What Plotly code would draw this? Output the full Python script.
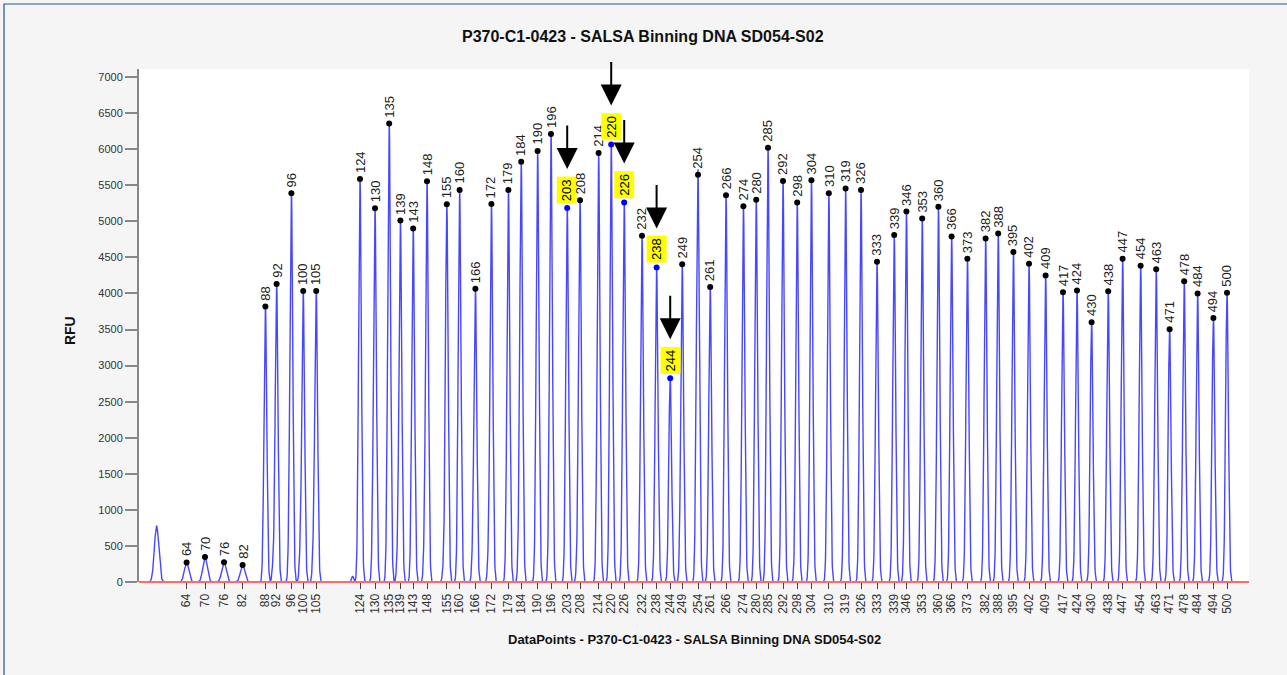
import numpy as np
import plotly.graph_objects as go

# ---------------- data ----------------
bp_labels = [64, 70, 76, 82, 88, 92, 96, 100, 105, 124, 130, 135, 139, 143, 148, 155, 160, 166,
             172, 179, 184, 190, 196, 203, 208, 214, 220, 226, 232, 238, 244, 249, 254, 261, 266,
             274, 280, 285, 292, 298, 304, 310, 319, 326, 333, 339, 346, 353, 360, 366, 373, 382,
             388, 395, 402, 409, 417, 424, 430, 438, 447, 454, 463, 471, 478, 484, 494, 500]
peak_dp = [1638, 1730, 1825, 1918, 2032, 2088, 2162, 2221, 2286, 2505, 2580, 2651, 2707, 2771,
           2840, 2939, 3003, 3082, 3162, 3247, 3311, 3393, 3460, 3541, 3605, 3698, 3761, 3826,
           3915, 3988, 4056, 4116, 4195, 4256, 4335, 4422, 4486, 4545, 4620, 4691, 4762, 4849,
           4933, 5010, 5090, 5176, 5237, 5316, 5397, 5463, 5542, 5633, 5696, 5772, 5850, 5933,
           6020, 6090, 6163, 6246, 6318, 6408, 6486, 6553, 6626, 6693, 6772, 6840]
peak_rfu = [270, 345, 275, 235, 3820, 4130, 5390, 4035, 4035, 5585, 5180, 6355, 5010, 4900,
            5555, 5235, 5435, 4065, 5240, 5435, 5825, 5975, 6210, 5185, 5290, 5945, 6065, 5260,
            4800, 4360, 2825, 4405, 5645, 4090, 5360, 5210, 5300, 6020, 5560, 5260, 5570, 5390,
            5455, 5435, 4440, 4810, 5135, 5040, 5200, 4790, 4480, 4760, 4830, 4575, 4410, 4250,
            4015, 4040, 3600, 4030, 4480, 4385, 4335, 3505, 4170, 4000, 3660, 4010]
highlighted = [203, 220, 226, 238, 244]

# unlabeled peaks / shoulders in the trace
minor_dp = [1488, 2070, 2150, 2205, 2271, 2468, 2568, 2640, 2691, 2825, 2921, 3068, 3146, 3298, 3590, 4185]
minor_rfu = [780, 205, 238, 266, 300, 80, 238, 180, 170, 180, 125, 238, 205, 176, 166, 560]

title = "P370-C1-0423 - SALSA Binning DNA SD054-S02"
x_title = "DataPoints - P370-C1-0423 - SALSA Binning DNA SD054-S02"
y_title = "RFU"
y_ticks = list(range(0, 7001, 500))

# ---------------- trace ----------------
x = np.arange(1400, 6951, 1.0)
y = np.zeros_like(x)
for p, h in zip(peak_dp + minor_dp, peak_rfu + minor_rfu):
    s = 11.0 if (h < 1000 and p < 2000) else 7.0
    if p in minor_dp and p > 2000:
        s = 5.0
    y += h * np.exp(-0.5 * ((x - p) / s) ** 2)

FONT = "Arial, Liberation Sans, sans-serif"

fig = go.Figure()
fig.add_trace(go.Scatter(x=x, y=y, mode="lines",
                         line=dict(color="rgba(10,10,255,0.75)", width=1.4),
                         hoverinfo="skip", showlegend=False))

dot_colors = ["#0000ff" if b in highlighted else "#000000" for b in bp_labels]
fig.add_trace(go.Scatter(x=peak_dp, y=peak_rfu, mode="markers",
                         marker=dict(color=dot_colors, size=6),
                         cliponaxis=False, showlegend=False))

annotations = []
for b, p, h in zip(bp_labels, peak_dp, peak_rfu):
    hl = b in highlighted
    annotations.append(dict(
        x=p, y=h, xref="x", yref="y", text=str(b), showarrow=False,
        textangle=-90, xanchor="center", yanchor="bottom", yshift=5 if not hl else 4,
        font=dict(family=FONT, size=13, color="#000" if hl else "#222"),
        bgcolor="#ffff00" if hl else None, borderpad=2 if hl else 0))
    if hl:
        annotations.append(dict(
            x=p, y=h, xref="x", yref="y", text="", showarrow=True,
            ax=0, ay=-84, standoff=39, arrowhead=2, arrowsize=2.1, arrowwidth=2,
            arrowcolor="#000"))

annotations += [
    dict(text="<b>" + title + "</b>", x=0.454, y=1.0643, xref="paper", yref="paper",
         xanchor="center", yanchor="middle",
         showarrow=False, font=dict(family=FONT, size=16, color="#111")),
    dict(text="<b>" + x_title + "</b>", x=0.5009, y=-0.113, xref="paper", yref="paper",
         xanchor="center", yanchor="middle",
         showarrow=False, font=dict(family=FONT, size=13, color="#111")),
    dict(text="<b>" + y_title + "</b>", x=-0.0622, y=0.491, xref="paper", yref="paper",
         xanchor="center", yanchor="middle",
         showarrow=False, textangle=-90, font=dict(family=FONT, size=14, color="#111")),
]

shapes = [
    dict(type="line", xref="paper", yref="paper", x0=0, x1=1, y0=0, y1=0,
         line=dict(color="#ff6b6b", width=2), layer="above"),
    dict(type="rect", xref="paper", yref="paper", x0=-0.1216, x1=1.1, y0=-0.3, y1=1.1267,
         line=dict(color="#2e5288", width=1.2), layer="below"),
]

fig.update_layout(
    width=1287, height=675,
    margin=dict(l=139, r=38, t=69, b=93),
    paper_bgcolor="#f5f5f5", plot_bgcolor="#ffffff",
    annotations=annotations, shapes=shapes, showlegend=False,
    font=dict(family=FONT),
)
fig.update_xaxes(range=[1400, 6950], tickmode="array", tickvals=peak_dp,
                 ticktext=[str(b) for b in bp_labels], tickangle=-90,
                 ticks="outside", ticklen=6, tickcolor="#444", tickwidth=1,
                 tickfont=dict(family=FONT, size=12, color="#333"),
                 showgrid=False, zeroline=False, showline=False)
fig.update_yaxes(range=[0, 7111], tickmode="array", tickvals=y_ticks,
                 ticks="outside", ticklen=12, tickcolor="#888", tickwidth=2,
                 tickfont=dict(family=FONT, size=11, color="#333"),
                 showgrid=False, zeroline=False, showline=True, linecolor="#888", linewidth=2)

fig.write_html("out.html", config={"displayModeBar": False},
               post_script="document.body.style.margin='0px';document.body.style.background='#f5f5f5';")
